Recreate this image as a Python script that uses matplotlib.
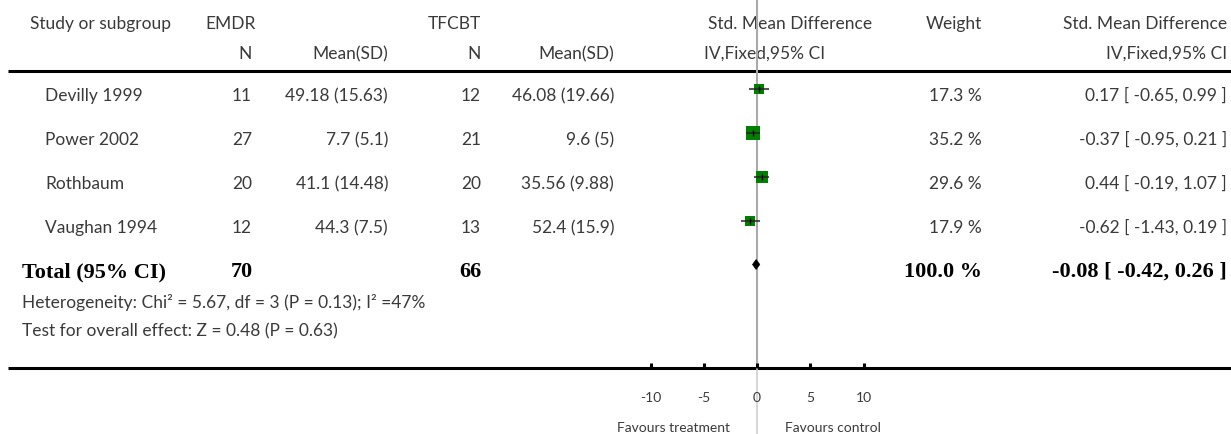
import matplotlib.pyplot as plt
import matplotlib as mpl
import numpy as np

mpl.rcParams['font.family'] = ['Lato', 'DejaVu Sans']

# data
studies = ['Devilly 1999', 'Power 2002', 'Rothbaum', 'Vaughan 1994']
n_emdr = [11, 27, 20, 12]
mean_emdr = [49.18, 7.7, 41.1, 44.3]
sd_emdr = [15.63, 5.1, 14.48, 7.5]
n_tfcbt = [12, 21, 20, 13]
mean_tfcbt = [46.08, 9.6, 35.56, 52.4]
sd_tfcbt = [19.66, 5, 9.88, 15.9]
weights = [17.3, 35.2, 29.6, 17.9]
smd = [0.17, -0.37, 0.44, -0.62]
ci_lo = [-0.65, -0.95, -0.19, -1.43]
ci_hi = [0.99, 0.21, 1.07, 0.19]

total_n = [70, 66]
total_weight = 100.0
total_smd, total_lo, total_hi = -0.08, -0.42, 0.26
het_text = 'Heterogeneity: Chi² = 5.67, df = 3 (P = 0.13); I² =47%'
effect_text = 'Test for overall effect: Z = 0.48 (P = 0.63)'
ticks = [-10, -5, 0, 5, 10]

# layout (pixels)
W, H = 1231, 435
x0_px = 757.0      # position of zero on the forest axis
px_per_unit = 10.65
row_y = [90, 134, 178, 222]
total_y = 265.5
axis_y = 369
head_y = 72
txt = '#3a3a3a'
fs = 12.5

fig = plt.figure(figsize=(W / 100, H / 100), dpi=100)
ax = fig.add_axes([0, 0, 1, 1])
ax.set_xlim(0, W)
ax.set_ylim(H, 0)
ax.axis('off')

fx = fig.add_axes([0, 0, 1, 1])
fx.set_xlim(-x0_px / px_per_unit, (W - x0_px) / px_per_unit)
fx.set_ylim(H, 0)
fx.axis('off')
fx.patch.set_alpha(0)

def fmt(v):
    return f"{v:g}"

def t(x, y, s, ha='left'):
    ax.text(x, y, s, color=txt, fontsize=fs, va='baseline', ha=ha)

# header
t(30, 29, 'Study or subgroup')
t(205, 29, 'EMDR')
t(428, 29, 'TFCBT')
t(708, 29, 'Std. Mean Difference')
t(982, 29, 'Weight', 'right')
t(1227, 29, 'Std. Mean Difference', 'right')
t(252, 59, 'N', 'right')
t(388, 59, 'Mean(SD)', 'right')
t(481, 59, 'N', 'right')
t(614, 59, 'Mean(SD)', 'right')
t(704, 59, 'IV,Fixed,95% CI')
t(1227, 59, 'IV,Fixed,95% CI', 'right')
ax.plot([8, W], [head_y, head_y], color='black', lw=2.2, solid_capstyle='butt')

# study rows
for i, name in enumerate(studies):
    yb = row_y[i] + 11
    t(45, yb, name)
    t(252, yb, str(n_emdr[i]), 'right')
    t(388, yb, f"{fmt(mean_emdr[i])} ({fmt(sd_emdr[i])})", 'right')
    t(481, yb, str(n_tfcbt[i]), 'right')
    t(614, yb, f"{fmt(mean_tfcbt[i])} ({fmt(sd_tfcbt[i])})", 'right')
    t(982, yb, f"{weights[i]:.1f} %", 'right')
    t(1227, yb, f"{smd[i]:.2f} [ {ci_lo[i]:.2f}, {ci_hi[i]:.2f} ]", 'right')

# total row
bold = dict(family=['Liberation Serif', 'DejaVu Serif'], fontweight='bold', fontsize=16, color='black',
            va='baseline')
tb = total_y + 11.5
ax.text(22, tb, 'Total (95% CI)', **bold)
ax.text(253, tb, str(total_n[0]), ha='right', **bold)
ax.text(482, tb, str(total_n[1]), ha='right', **bold)
ax.text(982, tb, f"{total_weight:.1f} %", ha='right', **bold)
ax.text(1227, tb, f"{total_smd:.2f} [ {total_lo:.2f}, {total_hi:.2f} ]", ha='right', **bold)
t(22, 308, het_text)
t(22, 336, effect_text)

# forest plot
fx.plot([0, 0], [0, axis_y], color='#aaaaaa', lw=1.5, zorder=1)
fx.plot([0, 0], [axis_y, H], color='#d0d0d0', lw=1.2, zorder=1)
for i in range(len(studies)):
    side_pt = 2.2 * np.sqrt(weights[i]) * 0.72
    fx.scatter([smd[i]], [row_y[i]], marker='s', s=side_pt ** 2, color='#008000', linewidths=0, zorder=3)
    fx.plot([ci_lo[i], ci_hi[i]], [row_y[i], row_y[i]], color='#222222', alpha=0.75, lw=1.5, zorder=4)
    fx.plot([smd[i]], [row_y[i]], marker='|', color='black', markersize=5, mew=1, zorder=5)
fx.fill([total_lo, total_smd, total_hi, total_smd], [total_y, total_y - 5, total_y, total_y + 5],
        color='black', lw=0.5, zorder=5)

# axis
ax.plot([8, W], [axis_y, axis_y], color='black', lw=2.2, solid_capstyle='butt', zorder=2)
for tk in ticks:
    fx.plot([tk, tk], [axis_y - 5, axis_y], color='black', lw=2.2, solid_capstyle='butt', zorder=2)
    fx.text(tk, 402, f"{tk:d}", color=txt, fontsize=10, ha='center', va='baseline')
fx.text(-27 / px_per_unit, 432, 'Favours treatment', color=txt, fontsize=10, ha='right', va='baseline')
fx.text(28 / px_per_unit, 432, 'Favours control', color=txt, fontsize=10, ha='left', va='baseline')

fig.savefig('out.png', dpi=100, facecolor='white')
